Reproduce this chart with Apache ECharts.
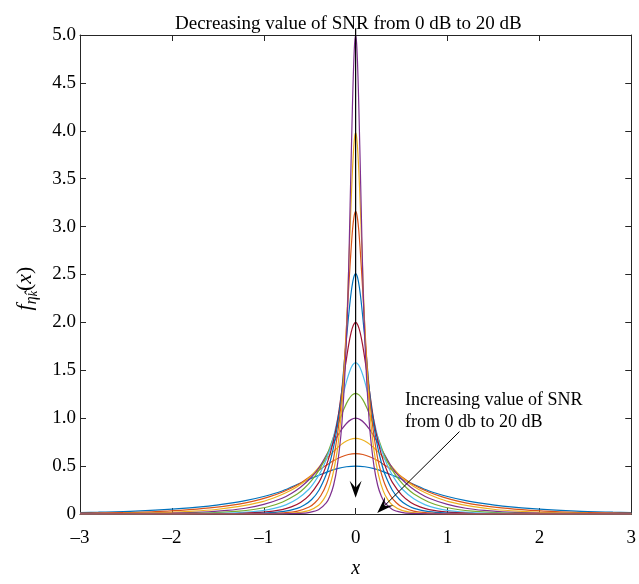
<!DOCTYPE html>
<html>
<head>
<meta charset="utf-8">
<script src="https://cdn.jsdelivr.net/npm/echarts@6/dist/echarts.min.js"></script>
<style>
  html, body { margin: 0; padding: 0; background: #fff; }
  #chart { width: 639px; height: 584px; }
</style>
</head>
<body>
<div id="chart"></div>
<script>
// half curves (x >= 0), mirrored to the left side when building series
const x1 = [0, 0.1, 0.2, 0.3, 0.4, 0.5, 0.6, 0.8, 1.0, 1.2, 1.4, 1.6, 2.0, 2.4, 2.8, 3.0];
const y1 = [0.5, 0.493, 0.473, 0.443, 0.405, 0.365, 0.323, 0.24, 0.183, 0.14, 0.108, 0.083, 0.05, 0.03, 0.019, 0.015];
const x2 = [0, 0.079, 0.159, 0.238, 0.317, 0.397, 0.476, 0.635, 0.794, 0.952, 1.111, 1.27, 1.587, 1.905, 2.222, 2.54, 3.0];
const y2 = [0.63, 0.621, 0.595, 0.558, 0.51, 0.46, 0.406, 0.302, 0.23, 0.176, 0.135, 0.104, 0.063, 0.038, 0.023, 0.0145, 0.0082];
const x3 = [0, 0.063, 0.127, 0.19, 0.253, 0.316, 0.38, 0.506, 0.633, 0.759, 0.886, 1.013, 1.266, 1.519, 1.772, 2.025, 2.532, 3.0];
const y3 = [0.79, 0.778, 0.747, 0.699, 0.64, 0.577, 0.51, 0.379, 0.288, 0.221, 0.17, 0.13, 0.079, 0.047, 0.029, 0.018, 0.0075, 0.0036];
const x4 = [0, 0.05, 0.1, 0.15, 0.2, 0.25, 0.3, 0.4, 0.5, 0.6, 0.7, 0.8, 1.0, 1.2, 1.4, 1.6, 2.0, 2.5, 3.0];
const y4 = [1, 0.985, 0.945, 0.885, 0.81, 0.73, 0.645, 0.48, 0.365, 0.28, 0.215, 0.165, 0.1, 0.06, 0.037, 0.023, 0.0095, 0.0035, 0.0012];
const x5 = [0, 0.04, 0.079, 0.119, 0.159, 0.198, 0.238, 0.317, 0.397, 0.476, 0.556, 0.635, 0.794, 0.952, 1.111, 1.27, 1.587, 1.984, 2.381, 3.0];
const y5 = [1.26, 1.241, 1.191, 1.115, 1.021, 0.92, 0.813, 0.605, 0.46, 0.353, 0.271, 0.208, 0.126, 0.076, 0.047, 0.029, 0.012, 0.0044, 0.0015, 0.0004];
const x6 = [0, 0.032, 0.063, 0.095, 0.127, 0.158, 0.19, 0.253, 0.316, 0.38, 0.443, 0.506, 0.633, 0.759, 0.886, 1.013, 1.266, 1.582, 1.899, 2.532, 3.0];
const y6 = [1.58, 1.556, 1.493, 1.398, 1.28, 1.153, 1.019, 0.758, 0.577, 0.442, 0.34, 0.261, 0.158, 0.095, 0.058, 0.036, 0.015, 0.0055, 0.0019, 0.0003, 0];
const x7 = [0, 0.025, 0.05, 0.075, 0.1, 0.125, 0.15, 0.2, 0.25, 0.3, 0.35, 0.4, 0.5, 0.6, 0.7, 0.8, 1.0, 1.25, 1.5, 2.0, 3.0];
const y7 = [2, 1.97, 1.89, 1.77, 1.62, 1.46, 1.29, 0.96, 0.73, 0.56, 0.43, 0.33, 0.2, 0.12, 0.074, 0.046, 0.019, 0.007, 0.0024, 0.0004, 0];
const x8 = [0, 0.02, 0.04, 0.06, 0.08, 0.1, 0.12, 0.159, 0.199, 0.239, 0.279, 0.319, 0.398, 0.478, 0.558, 0.637, 0.797, 0.996, 1.195, 1.594, 3.0];
const y8 = [2.51, 2.472, 2.372, 2.221, 2.033, 1.832, 1.619, 1.205, 0.916, 0.703, 0.54, 0.414, 0.251, 0.151, 0.093, 0.058, 0.024, 0.0088, 0.003, 0.0005, 0];
const x9 = [0, 0.016, 0.032, 0.047, 0.063, 0.079, 0.095, 0.127, 0.158, 0.19, 0.222, 0.253, 0.316, 0.38, 0.443, 0.506, 0.633, 0.791, 0.949, 1.266, 3.0];
const y9 = [3.16, 3.113, 2.986, 2.797, 2.56, 2.307, 2.038, 1.517, 1.153, 0.885, 0.679, 0.521, 0.316, 0.19, 0.117, 0.073, 0.03, 0.011, 0.0038, 0.0006, 0];
const x10 = [0, 0.0126, 0.0251, 0.0377, 0.0503, 0.0628, 0.0754, 0.1005, 0.1256, 0.1508, 0.1759, 0.201, 0.2513, 0.3015, 0.3518, 0.402, 0.5025, 0.6281, 0.7538, 1.005, 3.0];
const y10 = [3.98, 3.92, 3.761, 3.522, 3.224, 2.905, 2.567, 1.91, 1.453, 1.114, 0.856, 0.657, 0.398, 0.239, 0.147, 0.092, 0.038, 0.014, 0.0048, 0.0008, 0];
const x11 = [0, 0.01, 0.02, 0.03, 0.04, 0.05, 0.06, 0.08, 0.1, 0.12, 0.14, 0.16, 0.2, 0.24, 0.28, 0.32, 0.4, 0.5, 0.6, 0.8, 3.0];
const y11 = [5, 4.925, 4.725, 4.425, 4.05, 3.65, 3.225, 2.4, 1.825, 1.4, 1.075, 0.825, 0.5, 0.3, 0.185, 0.115, 0.0475, 0.0175, 0.006, 0.001, 0];

const colors = ['#0072BD', '#D95319', '#EDB120', '#7E2F8E', '#77AC30', '#4DBEEE', '#A2142F',
                '#0072BD', '#D95319', '#EDB120', '#7E2F8E'];
const xTicks = [-3, -2, -1, 0, 1, 2, 3];
const yTicks = [0, 0.5, 1, 1.5, 2, 2.5, 3, 3.5, 4, 4.5, 5];

const titleText = 'Decreasing value of SNR from 0 dB to 20 dB';
const noteText = 'Increasing value of SNR\nfrom 0 db to 20 dB';

const FONT = "'Liberation Serif', 'Times New Roman', serif";
const AX = '#262626';

function mirror(xs, ys) {
  let pts = [];
  for (let i = xs.length - 1; i > 0; i--) pts.push([-xs[i], ys[i]]);
  for (let i = 0; i < xs.length; i++) pts.push([xs[i], ys[i]]);
  return pts;
}

const curves = [[x1, y1], [x2, y2], [x3, y3], [x4, y4], [x5, y5], [x6, y6],
                [x7, y7], [x8, y8], [x9, y9], [x10, y10], [x11, y11]];

let chart = echarts.init(document.getElementById('chart'));

const baseX = {
  type: 'value', min: xTicks[0], max: xTicks[xTicks.length - 1], interval: 1,
  axisLine: { onZero: false, lineStyle: { color: AX, width: 1 } },
  axisTick: { inside: true, length: 6, lineStyle: { color: AX } },
  splitLine: { show: false }
};
const baseY = {
  type: 'value', min: yTicks[0], max: yTicks[yTicks.length - 1], interval: 0.5,
  axisLine: { show: true, onZero: false, lineStyle: { color: AX, width: 1 } },
  axisTick: { inside: true, length: 6, lineStyle: { color: AX } },
  splitLine: { show: false }
};

let option = {
  animation: false,
  backgroundColor: '#fff',
  title: {
    text: titleText, left: 170, top: 10,
    textStyle: { fontFamily: FONT, fontSize: 19, fontWeight: 'normal', color: '#000' }
  },
  grid: { left: 80, right: 2, top: 35, bottom: 61 },
  xAxis: [
    Object.assign({}, baseX, {
      position: 'bottom',
      axisLabel: {
        margin: 15, fontFamily: FONT, fontSize: 19, color: '#000',
        formatter: v => (v < 0 ? '\u2013' + Math.abs(v) : String(v))
      },
      name: 'x', nameLocation: 'middle', nameGap: 45,
      nameTextStyle: { fontFamily: FONT, fontSize: 20, fontStyle: 'italic', color: '#000' }
    }),
    Object.assign({}, baseX, { position: 'top', axisLabel: { show: false } })
  ],
  yAxis: [
    Object.assign({}, baseY, {
      position: 'left',
      axisLabel: {
        margin: 4, fontFamily: FONT, fontSize: 19, color: '#000',
        formatter: v => (v === 0 ? '0' : v.toFixed(1))
      },
      name: '{f|f}{s|\u03B7\u0302}{k|k}{p|(}{f|x}{p|)}',
      nameLocation: 'middle', nameRotate: 90, nameGap: 40,
      nameTextStyle: {
        fontFamily: FONT, color: '#000', padding: [0, 28, 0, 0],
        rich: {
          f: { fontFamily: FONT, fontSize: 22, fontStyle: 'italic', verticalAlign: 'middle', lineHeight: 30 },
          p: { fontFamily: FONT, fontSize: 22, verticalAlign: 'middle', lineHeight: 30 },
          s: { fontFamily: FONT, fontSize: 16, fontStyle: 'italic', verticalAlign: 'bottom', lineHeight: 30 },
          k: { fontFamily: FONT, fontSize: 12, fontStyle: 'italic', verticalAlign: 'bottom', lineHeight: 30 }
        }
      }
    }),
    Object.assign({}, baseY, { position: 'right', axisLabel: { show: false } })
  ],
  series: curves.map((c, i) => ({
    type: 'line',
    data: mirror(c[0], c[1]),
    showSymbol: false,
    smooth: 0.3,
    lineStyle: { color: colors[i], width: 1.2 },
    z: 2 + i
  }))
};
chart.setOption(option);

// annotations: arrows placed from data coordinates
function arrowHead(tip, ang, len, half, notch, z) {
  const ca = Math.cos(ang), sa = Math.sin(ang);
  const pt = (a, b) => [tip[0] - a * ca + b * -sa, tip[1] - a * sa + b * ca];
  return {
    type: 'polygon', z: z,
    shape: { points: [tip, pt(len, half), pt(notch, 0), pt(len, -half)] },
    style: { fill: '#000' }
  };
}

const topTip = chart.convertToPixel({ xAxisIndex: 0, yAxisIndex: 0 }, [0, 0.17]);
const topStart = chart.convertToPixel({ xAxisIndex: 0, yAxisIndex: 0 }, [0, 5.07]);
const diagTip = chart.convertToPixel({ xAxisIndex: 0, yAxisIndex: 0 }, [0.235, 0.01]);
const diagStart = chart.convertToPixel({ xAxisIndex: 0, yAxisIndex: 0 }, [1.13, 0.86]);

chart.setOption({
  graphic: [
    { type: 'line', z: 100, shape: { x1: topStart[0], y1: topStart[1], x2: topTip[0], y2: topTip[1] - 8 },
      style: { stroke: '#000', lineWidth: 1.2 } },
    arrowHead(topTip, Math.PI / 2, 17, 6, 10, 101),
    { type: 'line', z: 100, shape: { x1: diagStart[0], y1: diagStart[1], x2: diagTip[0] + 6, y2: diagTip[1] - 6 },
      style: { stroke: '#000', lineWidth: 1 } },
    arrowHead(diagTip, Math.atan2(diagTip[1] - diagStart[1], diagTip[0] - diagStart[0]), 17, 6, 10, 101),
    { type: 'text', z: 100, left: 405, top: 389,
      style: { text: noteText, fontFamily: FONT, fontSize: 18, lineHeight: 22, fill: '#000' } }
  ]
});
</script>
</body>
</html>
